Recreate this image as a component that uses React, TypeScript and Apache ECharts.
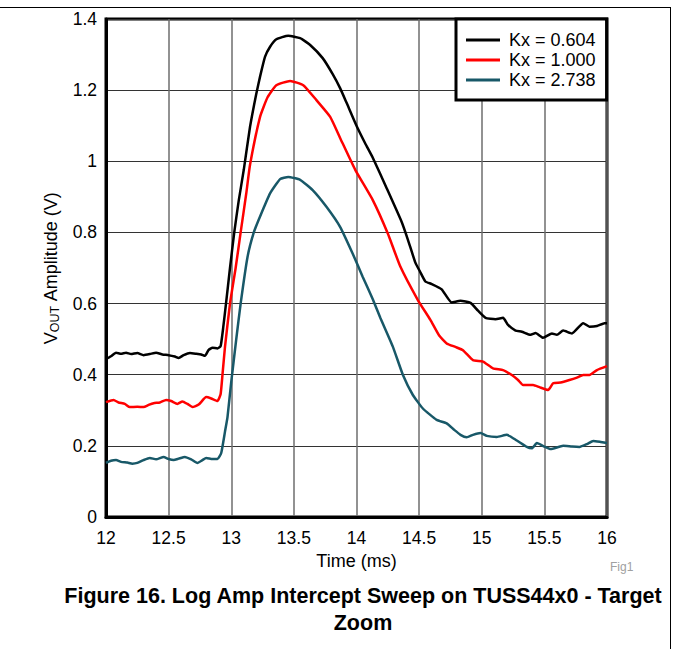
import React, { useEffect, useRef } from "react";
import * as echarts from "echarts";

const FONT = "'Liberation Sans', Arial, Helvetica, sans-serif";

const SERIES_NAMES = ["Kx = 0.604", "Kx = 1.000", "Kx = 2.738"];
const SERIES_COLORS = ["#000000", "#ff0000", "#185868"];

// Kx = 0.604 (black)
const tK0604 = [12.00, 12.04, 12.08, 12.12, 12.16, 12.20, 12.25, 12.30, 12.35, 12.40, 12.45, 12.50, 12.55, 12.58, 12.62, 12.67, 12.72, 12.76, 12.79, 12.82, 12.85, 12.89, 12.915, 12.935, 12.958, 12.99, 13.024, 13.06, 13.10, 13.15, 13.20, 13.23, 13.27, 13.31, 13.36, 13.455, 13.55, 13.63, 13.73, 13.81, 13.87, 13.92, 14.00, 14.07, 14.13, 14.24, 14.36, 14.41, 14.47, 14.507, 14.55, 14.60, 14.68, 14.76, 14.83, 14.91, 14.97, 15.03, 15.11, 15.17, 15.21, 15.27, 15.32, 15.39, 15.43, 15.49, 15.56, 15.60, 15.65, 15.72, 15.81, 15.86, 15.92, 15.98, 16.00];
const vK0604 = [0.444, 0.452, 0.462, 0.459, 0.462, 0.458, 0.461, 0.455, 0.458, 0.462, 0.457, 0.455, 0.451, 0.447, 0.455, 0.461, 0.459, 0.457, 0.453, 0.470, 0.476, 0.474, 0.480, 0.53, 0.60, 0.70, 0.80, 0.89, 0.976, 1.097, 1.19, 1.238, 1.294, 1.322, 1.343, 1.353, 1.346, 1.327, 1.29, 1.245, 1.205, 1.165, 1.10, 1.05, 1.01, 0.925, 0.83, 0.78, 0.715, 0.690, 0.662, 0.655, 0.640, 0.603, 0.608, 0.602, 0.580, 0.560, 0.556, 0.560, 0.540, 0.524, 0.521, 0.512, 0.517, 0.504, 0.516, 0.512, 0.524, 0.516, 0.545, 0.535, 0.537, 0.545, 0.545];

// Kx = 1.000 (red)
const tK1000 = [12.00, 12.06, 12.10, 12.15, 12.19, 12.25, 12.30, 12.34, 12.38, 12.43, 12.48, 12.52, 12.57, 12.61, 12.65, 12.69, 12.74, 12.80, 12.84, 12.89, 12.915, 12.93, 12.95, 12.99, 13.035, 13.075, 13.12, 13.15, 13.23, 13.29, 13.36, 13.47, 13.575, 13.68, 13.79, 13.87, 13.99, 14.13, 14.25, 14.35, 14.49, 14.59, 14.66, 14.72, 14.79, 14.85, 14.93, 15.01, 15.09, 15.17, 15.24, 15.29, 15.33, 15.41, 15.46, 15.53, 15.57, 15.63, 15.70, 15.76, 15.81, 15.86, 15.92, 16.00];
const vK1000 = [0.323, 0.329, 0.322, 0.318, 0.309, 0.310, 0.309, 0.315, 0.320, 0.322, 0.329, 0.326, 0.318, 0.325, 0.318, 0.309, 0.316, 0.337, 0.333, 0.326, 0.345, 0.40, 0.478, 0.60, 0.70, 0.80, 0.91, 0.99, 1.125, 1.18, 1.214, 1.226, 1.214, 1.172, 1.125, 1.065, 0.976, 0.891, 0.797, 0.704, 0.61, 0.554, 0.51, 0.488, 0.478, 0.469, 0.441, 0.437, 0.418, 0.413, 0.399, 0.385, 0.371, 0.371, 0.365, 0.357, 0.376, 0.378, 0.385, 0.392, 0.399, 0.399, 0.413, 0.424];

// Kx = 2.738 (teal)
const tK2738 = [12.00, 12.04, 12.08, 12.12, 12.17, 12.21, 12.25, 12.30, 12.35, 12.40, 12.46, 12.50, 12.54, 12.58, 12.63, 12.68, 12.73, 12.77, 12.80, 12.85, 12.89, 12.92, 12.95, 12.97, 13.00, 13.04, 13.075, 13.13, 13.18, 13.23, 13.31, 13.39, 13.455, 13.55, 13.65, 13.76, 13.87, 13.97, 14.05, 14.13, 14.19, 14.29, 14.37, 14.45, 14.53, 14.64, 14.72, 14.78, 14.83, 14.88, 14.93, 14.99, 15.04, 15.12, 15.20, 15.28, 15.36, 15.40, 15.44, 15.50, 15.55, 15.65, 15.72, 15.78, 15.84, 15.89, 15.95, 16.00];
const vK2738 = [0.152, 0.158, 0.160, 0.155, 0.153, 0.150, 0.152, 0.160, 0.166, 0.162, 0.169, 0.163, 0.160, 0.164, 0.169, 0.162, 0.152, 0.160, 0.166, 0.163, 0.163, 0.180, 0.24, 0.281, 0.38, 0.50, 0.60, 0.731, 0.80, 0.845, 0.91, 0.95, 0.956, 0.948, 0.919, 0.872, 0.815, 0.74, 0.675, 0.612, 0.56, 0.479, 0.40, 0.343, 0.305, 0.273, 0.263, 0.245, 0.231, 0.224, 0.231, 0.236, 0.228, 0.225, 0.231, 0.215, 0.197, 0.193, 0.208, 0.198, 0.191, 0.200, 0.198, 0.197, 0.205, 0.214, 0.211, 0.208];

const X_AXIS_NAME = "Time (ms)";
const TITLE_LINE_1 = "Figure 16. Log Amp Intercept Sweep on TUSS44x0 - Target";
const TITLE_LINE_2 = "Zoom";
const FIG_TAG = "Fig1";

const zip = (t: number[], v: number[]) => t.map((x, i) => [x, v[i]]);

export default function App() {
  const ref = useRef<HTMLDivElement>(null);
  useEffect(() => {
    if (!ref.current) return;
    const chart = echarts.init(ref.current, undefined, { renderer: "svg" });
    const seriesData = [zip(tK0604, vK0604), zip(tK1000, vK1000), zip(tK2738, vK2738)];
    const option: any = {
      animation: false,
      grid: {
        left: 106,
        top: 19,
        width: 501,
        height: 498,
        show: true,
        borderColor: "#000",
        borderWidth: 3,
        backgroundColor: "transparent",
      },
      xAxis: {
        type: "value",
        min: 12,
        max: 16,
        interval: 0.5,
        name: X_AXIS_NAME,
        nameLocation: "middle",
        nameGap: 30,
        nameTextStyle: { fontSize: 18, color: "#000", fontFamily: FONT },
        axisLine: { show: true, onZero: false, lineStyle: { color: "#000", width: 3 } },
        axisTick: { show: false },
        axisLabel: { fontSize: 17.5, color: "#000", margin: 12, fontFamily: FONT },
        splitLine: { show: true, lineStyle: { color: "#6e6e6e", width: 1.5 } },
      },
      yAxis: {
        type: "value",
        min: 0,
        max: 1.4,
        interval: 0.2,
        name: "{v|V}{s|OUT}{n| Amplitude (V)}",
        nameLocation: "middle",
        nameGap: 45,
        nameRotate: 90,
        nameTextStyle: {
          color: "#000",
          fontFamily: FONT,
          fontSize: 18,
          rich: {
            v: { fontSize: 18, fontFamily: FONT, color: "#000", lineHeight: 20 },
            s: { fontSize: 12.5, fontFamily: FONT, color: "#000", verticalAlign: "bottom", lineHeight: 14 },
            n: { fontSize: 18, fontFamily: FONT, color: "#000", lineHeight: 20 },
          },
        },
        axisLine: { show: true, onZero: false, lineStyle: { color: "#000", width: 3 } },
        axisTick: { show: false },
        axisLabel: { fontSize: 17.5, color: "#000", margin: 9, fontFamily: FONT },
        splitLine: { show: true, lineStyle: { color: "#333", width: 1 } },
      },
      legend: {
        left: 456,
        top: 19,
        orient: "vertical",
        icon: "rect",
        itemWidth: 34,
        itemHeight: 3,
        itemGap: 2,
        padding: [12, 11, 11, 10],
        borderColor: "#000",
        borderWidth: 3,
        borderRadius: 0,
        backgroundColor: "#fff",
        textStyle: { fontSize: 18, color: "#000", fontFamily: FONT, lineHeight: 18, padding: [0, 0, 0, 4] },
        data: SERIES_NAMES,
      },
      series: [2, 1, 0].map((i) => ({
        type: "line",
        name: SERIES_NAMES[i],
        data: seriesData[i],
        color: SERIES_COLORS[i],
        showSymbol: false,
        symbol: "none",
        smooth: 0.15,
        lineStyle: { width: 2.5, color: SERIES_COLORS[i] },
        z: 3,
      })),
      graphic: [
        { type: "line", shape: { x1: 0, y1: 7.5, x2: 671, y2: 7.5 }, style: { stroke: "#000", lineWidth: 1 } },
        { type: "line", shape: { x1: 670.5, y1: 7, x2: 670.5, y2: 649 }, style: { stroke: "#000", lineWidth: 1 } },
        {
          type: "text",
          left: 610,
          top: 561,
          style: { text: FIG_TAG, fontSize: 12, fill: "#a0a0a0", fontFamily: FONT },
        },
        {
          type: "text",
          x: 363,
          y: 595.5,
          style: {
            text: TITLE_LINE_1,
            fontSize: 21.5,
            fontWeight: "bold",
            fill: "#000",
            fontFamily: FONT,
            textAlign: "center",
            textVerticalAlign: "middle",
          },
        },
        {
          type: "text",
          x: 363,
          y: 622.5,
          style: {
            text: TITLE_LINE_2,
            fontSize: 21.5,
            fontWeight: "bold",
            fill: "#000",
            fontFamily: FONT,
            textAlign: "center",
            textVerticalAlign: "middle",
          },
        },
      ],
    };
    chart.setOption(option);
    return () => chart.dispose();
  }, []);
  return (
    <div
      ref={ref}
      style={{ position: "absolute", left: 0, top: 0, width: 673, height: 649, background: "#fff" }}
    />
  );
}
